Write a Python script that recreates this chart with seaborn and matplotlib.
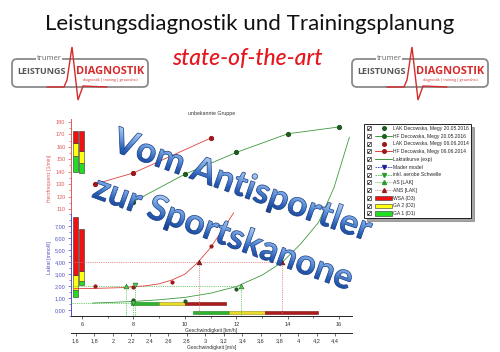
import numpy as np
import matplotlib
matplotlib.use("Agg")
import matplotlib.pyplot as plt
import seaborn as sns
from matplotlib.lines import Line2D
from matplotlib.patches import Patch, PathPatch, FancyBboxPatch
from matplotlib.legend_handler import HandlerBase, HandlerLine2D, HandlerPatch
from matplotlib.textpath import TextPath
from matplotlib.font_manager import FontProperties
from matplotlib.transforms import Affine2D
from matplotlib.ticker import MultipleLocator, FuncFormatter
from matplotlib.colors import LinearSegmentedColormap

# --- Daten ---
hf16_v = [8, 10, 12, 14, 16]
hf16 = [116, 138, 155.5, 170.5, 176]
hf14_v = [6.5, 8, 11]
hf14 = [130, 139, 167]

lak16_v = [8, 10, 12]
lak16 = [0.8, 0.78, 1.72]
lak14_v = [6.5, 8, 9.5, 11]
lak14 = [2.0, 1.9, 2.3, 5.3]

kurve16_v = [6.4, 7, 8, 9, 10, 11, 12, 13, 13.8, 14.5, 15.2, 15.8, 16.4]
kurve16 = [0.58, 0.62, 0.71, 0.85, 1.05, 1.4, 1.95, 2.9, 4.0, 5.5, 7.3, 10.2, 14.4]
kurve14_v = [5.7, 6.5, 7.5, 8.5, 9.0, 9.5, 10.0, 10.5, 11.0, 11.5, 11.9]
kurve14 = [1.78, 1.80, 1.86, 2.02, 2.18, 2.5, 2.98, 3.95, 5.2, 6.8, 8.1]

as_v = [7.7, 12.2]
as_la = [2.0, 2.0]
ans_v = [10.55, 13.77]
ans_la = [4.0, 4.0]
aerob_v = [8.05, 8.0]
aerob_la = [2.1, 0.62]

# Zonen: Start GA1, GA1/GA2, GA2/WSA, Ende WSA
zonen_pos = [5.76, 5.97]
hf_zonen = [[140, 152.3, 163, 173], [139, 147, 156.3, 173]]
la_zonen = [[1.08, 1.7, 2.92, 7.72], [2.06, 2.42, 3.25, 6.77]]
tempo_zonen_la = [0.57, -0.25]
tempo_zonen = [[7.9, 8.98, 10.02, 11.6], [10.33, 11.72, 13.1, 15.16]]

kmh_ticks = [6, 8, 10, 12, 14, 16]
ms_ticks = [1.6, 1.8, 2, 2.2, 2.4, 2.6, 2.8, 3, 3.2, 3.4, 3.6, 3.8, 4, 4.2, 4.4]
la_ticks = [0, 1, 2, 3, 4, 5, 6, 7]
hf_ticks = [110, 120, 130, 140, 150, 160, 170, 180]

legend_labels = ["LAK Decowska, Megy 20.05.2016", "HF Decowska, Megy 20.05.2016",
                 "LAK Decowska, Megy 06.06.2014", "HF Decowska, Megy 06.06.2014",
                 "Laktatkurve (exp)", "Mader model", "inkl. aerobe Schwelle",
                 "AS [LAK]", "ANS [LAK]", "WSA (D3)", "GA 2 (D2)", "GA 1 (D1)"]

sns.set_style("white")
plt.rcParams['font.family'] = ['Liberation Sans', 'DejaVu Sans']

GRUEN_D = '#1f5c1f'
GRUEN_L = '#3d9a3d'
ROT_D = '#9a1a1a'
ROT_L = '#e04040'
Z_GRUEN, Z_GELB, Z_ROT = '#22dd22', '#ffff10', '#ee1111'
T_GRUEN, T_GELB, T_ROT = '#2db52d', '#eadc2a', '#ad1c1c'
HF_COL = '#e05a5a'
LA_COL = '#5050c8'

fig = plt.figure(figsize=(5, 3.52), dpi=100)
ax_la = fig.add_axes([0.142, 0.1023, 0.562, 0.2926])
ax_hf = fig.add_axes([0.142, 0.3949, 0.562, 0.2671])
ax_hf.patch.set_visible(False)

XMIN, XMAX = 5.57, 16.5
LA_MIN = -0.5
for ax in (ax_la, ax_hf):
    ax.set_xlim(XMIN, XMAX)
ax_la.set_ylim(LA_MIN, 8.08)
ax_hf.set_ylim(106.8, 182.4)

# vertikale Zonenbalken (HF und Laktat)
for pos, hz, lz in zip(zonen_pos, hf_zonen, la_zonen):
    ax_hf.bar([pos] * 3, np.diff(hz), bottom=hz[:-1], width=0.2,
              color=[Z_GRUEN, Z_GELB, Z_ROT], edgecolor='#333333', linewidth=0.4, zorder=2)
    ax_la.bar([pos] * 3, np.diff(lz), bottom=lz[:-1], width=0.2,
              color=[Z_GRUEN, Z_GELB, Z_ROT], edgecolor='#333333', linewidth=0.4, zorder=2)

# horizontale Tempozonen
for yy, tz in zip(tempo_zonen_la, tempo_zonen):
    ax_la.barh([yy] * 3, np.diff(tz), left=tz[:-1], height=0.25,
               color=[T_GRUEN, T_GELB, T_ROT], edgecolor=['#1d7a1d', '#9a8f10', '#7a1010'],
               linewidth=0.4, zorder=2)

# Hilfslinien Schwellen
dot = (0, (1, 1.2))
ax_la.hlines(ans_la[0], XMIN, max(ans_v), colors='#e27070', linestyles=[dot], lw=0.6, zorder=3)
ax_la.vlines(ans_v, LA_MIN, ans_la, colors='#e27070', linestyles=[dot], lw=0.6, zorder=3)
ax_la.hlines(as_la[0], XMIN, max(as_v), colors='#44c044', linestyles=[dot], lw=0.6, zorder=3)
ax_la.vlines(as_v, LA_MIN, as_la, colors='#44c044', linestyles=[dot], lw=0.6, zorder=3)
ax_la.hlines(aerob_la[1], XMIN, aerob_v[1], colors='#44c044', linestyles=[dot], lw=0.6, zorder=3)
ax_la.vlines(aerob_v, LA_MIN, aerob_la, colors='#44c044', linestyles=[dot], lw=0.6, zorder=3)

# Laktatkurven (nicht abgeschnitten)
sns.lineplot(x=kurve14_v, y=kurve14, ax=ax_la, color=ROT_L, lw=0.6, clip_on=False, zorder=4)
sns.lineplot(x=kurve16_v, y=kurve16, ax=ax_la, color=GRUEN_L, lw=0.6, clip_on=False, zorder=4)

# Messpunkte
sns.scatterplot(x=lak14_v, y=lak14, ax=ax_la, color=ROT_D, s=9, linewidth=0, zorder=5)
sns.scatterplot(x=lak16_v, y=lak16, ax=ax_la, color=GRUEN_D, s=9, linewidth=0, zorder=5)
sns.scatterplot(x=as_v, y=as_la, ax=ax_la, marker='^', color='#55cc55', edgecolor=GRUEN_D,
                s=12, linewidth=0.4, zorder=6)
sns.scatterplot(x=ans_v, y=ans_la, ax=ax_la, marker='^', color=ROT_D, edgecolor='#5a0a0a',
                s=12, linewidth=0.4, zorder=6)
sns.scatterplot(x=aerob_v, y=aerob_la, ax=ax_la, marker='v', color='#55cc55', edgecolor=GRUEN_D,
                s=12, linewidth=0.4, zorder=6)

sns.lineplot(x=hf14_v, y=hf14, ax=ax_hf, color=ROT_L, lw=0.6, marker='o', ms=3,
             mfc=ROT_D, mec=ROT_D, zorder=5)
sns.lineplot(x=hf16_v, y=hf16, ax=ax_hf, color=GRUEN_L, lw=0.6, marker='o', ms=3,
             mfc=GRUEN_D, mec=GRUEN_D, zorder=5)

# Achsen
komma2 = FuncFormatter(lambda v, p: f"{v:.2f}".replace('.', ','))
kommag = FuncFormatter(lambda v, p: f"{v:g}".replace('.', ','))

ax_la.set_yticks(la_ticks)
ax_la.yaxis.set_major_formatter(komma2)
ax_la.yaxis.set_minor_locator(MultipleLocator(0.5))
ax_la.set_xticks(kmh_ticks)
ax_la.xaxis.set_minor_locator(MultipleLocator(1))
ax_la.tick_params(axis='both', which='both', direction='out', width=0.5, labelsize=4, pad=1.5)
ax_la.tick_params(which='major', length=2.5)
ax_la.tick_params(which='minor', length=1.5)
ax_la.tick_params(axis='y', which='both', colors=LA_COL, left=True)
ax_la.tick_params(axis='x', which='both', bottom=True, colors='#333333')
for s in ('top', 'right'):
    ax_la.spines[s].set_visible(False)
ax_la.spines['left'].set_color(LA_COL)
ax_la.spines['bottom'].set_color('#222222')
for s in ('left', 'bottom'):
    ax_la.spines[s].set_linewidth(0.7)
ax_la.set_ylabel('Laktat [mmol/l]', fontsize=3.6, color=LA_COL)
ax_la.yaxis.set_label_coords(-0.068, 0.57)
ax_la.set_xlabel('Geschwindigkeit [km/h]', fontsize=3.6, color='#333333', labelpad=1)

ax_hf.set_yticks(hf_ticks)
ax_hf.yaxis.set_minor_locator(MultipleLocator(5))
ax_hf.tick_params(axis='y', which='both', direction='out', width=0.5, labelsize=4, pad=1.5,
                  colors=HF_COL, left=True)
ax_hf.tick_params(axis='y', which='major', length=2.5)
ax_hf.tick_params(axis='y', which='minor', length=1.5)
ax_hf.tick_params(axis='x', bottom=False, labelbottom=False)
for s in ('top', 'right', 'bottom'):
    ax_hf.spines[s].set_visible(False)
ax_hf.spines['left'].set_color(HF_COL)
ax_hf.spines['left'].set_linewidth(0.7)
ax_hf.set_ylabel('Herzfrequenz [1/min]', fontsize=3.6, color=HF_COL)
ax_hf.yaxis.set_label_coords(-0.068, 0.366)
ax_hf.set_title('unbekannte Gruppe', fontsize=3.8, pad=3, color='#333333')

sec = ax_la.secondary_xaxis(-0.165, functions=(lambda v: v / 3.6, lambda v: v * 3.6))
sec.set_xticks(ms_ticks)
sec.xaxis.set_major_formatter(kommag)
sec.tick_params(direction='out', width=0.5, length=2.5, labelsize=4, pad=1.5, colors='#333333')
sec.spines['bottom'].set_linewidth(0.7)
sec.set_xlabel('Geschwindigkeit [m/s]', fontsize=3.6, color='#333333', labelpad=1)


# Legende mit Kontrollkästchen
class MitKaestchen(HandlerBase):
    def __init__(self, inner, gap):
        super().__init__()
        self.inner = inner
        self.gap = gap

    def create_artists(self, legend, orig_handle, xdescent, ydescent, width, height, fontsize, trans):
        bx = -xdescent + 0.5 * fontsize
        by = height / 2 - ydescent
        box = Line2D([bx], [by], marker='s', ms=3.3, mfc='white', mec='black', mew=0.4,
                     ls='none', transform=trans)
        haken = Line2D([bx], [by], marker='$\u2713$', ms=2.6, color='black', mew=0,
                       ls='none', transform=trans)
        arts = self.inner.create_artists(legend, orig_handle, xdescent - self.gap, ydescent,
                                         width - self.gap, height, fontsize, trans)
        return [box, haken] + list(arts)


handles = [
    Line2D([], [], ls='none', marker='o', color=GRUEN_D, ms=2.6),
    Line2D([], [], color=GRUEN_L, lw=0.7, marker='o', mfc=GRUEN_D, mec=GRUEN_D, ms=2.6),
    Line2D([], [], ls='none', marker='o', color=ROT_D, ms=2.6),
    Line2D([], [], color=ROT_L, lw=0.7, marker='o', mfc=ROT_D, mec=ROT_D, ms=2.6),
    Line2D([], [], color=GRUEN_L, lw=0.7),
    Line2D([], [], color='#3a3ad0', lw=0.6, ls=(0, (2, 1)), marker='v', mfc='#2020a0', mec='#2020a0', ms=2.8),
    Line2D([], [], color='#44c044', lw=0.6, ls=(0, (2, 1)), marker='v', mfc='#2a9a2a', mec='#2a9a2a', ms=2.8),
    Line2D([], [], color='#44c044', lw=0.6, ls=(0, (1, 1)), marker='^', mfc='#2a9a2a', mec='#2a9a2a', ms=2.8),
    Line2D([], [], color='#e27070', lw=0.6, ls=(0, (1, 1)), marker='^', mfc=ROT_D, mec=ROT_D, ms=2.8),
    Patch(fc=Z_ROT, ec='#333333', lw=0.4),
    Patch(fc=Z_GELB, ec='#333333', lw=0.4),
    Patch(fc=Z_GRUEN, ec='#333333', lw=0.4),
]
hmap = {}
for h in handles:
    inner = HandlerPatch() if isinstance(h, Patch) else HandlerLine2D()
    hmap[h] = MitKaestchen(inner, 6.5)

leg = fig.legend(handles, legend_labels, handler_map=hmap, loc='upper left',
                 bbox_to_anchor=(0.728, 0.648), fontsize=3.6, frameon=True, fancybox=False,
                 shadow=True, edgecolor='black', framealpha=1, handlelength=5.2,
                 handleheight=0.9, handletextpad=0.2, labelspacing=0.55, borderpad=0.4,
                 borderaxespad=0)
leg.get_frame().set_linewidth(0.6)

# Überlagerung: Kopf, Logos, Schriftzug (Pixelkoordinaten)
ov = fig.add_axes([0, 0, 1, 1], zorder=20)
ov.set_xlim(0, 500)
ov.set_ylim(0, 352)
ov.axis('off')
ov.patch.set_visible(False)


def Y(y):
    return 352 - y


ov.text(250, Y(24), 'Leistungsdiagnostik und Trainingsplanung', ha='center', va='center',
        fontsize=16, family='Lato', color='#111111')
ov.text(247, Y(59), 'state-of-the-art', ha='center', va='center', fontsize=16.5,
        family='Lato', style='italic', weight='medium', color='#e5161e')


def logo(x0):
    ov.add_patch(FancyBboxPatch((x0, Y(87)), 136, 28, boxstyle='round,pad=0,rounding_size=5',
                                fc='none', ec='#8a8a8a', lw=1.3))
    ov.text(x0 + 37, Y(59), 'trumer', fontsize=5.5, color='#6a6a6a', ha='center', va='center',
            family='Open Sans', bbox=dict(fc='white', ec='none', pad=0.6))
    ov.text(x0 + 29, Y(72), 'LEISTUNGS', fontsize=6.5, weight='bold', color='#585858',
            ha='center', va='center', family='Open Sans')
    ov.text(x0 + 98, Y(71), 'DIAGNOSTIK', fontsize=7.9, weight='bold', color='#d52b2b',
            ha='center', va='center', family='Open Sans')
    ov.text(x0 + 98, Y(79.5), 'diagnostik | training | gesundheit', fontsize=2.5, color='#d52b2b',
            ha='center', va='center', family='Open Sans')
    px = [x0 + d for d in (35, 52, 55, 60, 66, 71, 95)]
    py = [Y(v) for v in (87, 87, 80, 47, 100, 86, 87)]
    ov.plot(px, py, color='#d52b2b', lw=1.0, solid_joinstyle='miter')


logo(12)
logo(352)

blau = LinearSegmentedColormap.from_list('blau', ['#143a86', '#2a5fb8', '#6e9ee0', '#b2cdf2'])


def schriftzug(text, cx, cy, laenge, winkel):
    fp = FontProperties(family='Lato', weight='bold')
    tp0 = TextPath((0, 0), text, size=10, prop=fp)
    size = 10 * laenge / tp0.get_extents().width
    tp = TextPath((0, 0), text, size=size, prop=fp)
    bb = tp.get_extents()
    tf = Affine2D().translate(-(bb.x0 + bb.x1) / 2, -(bb.y0 + bb.y1) / 2).rotate_deg(winkel).translate(cx, cy)
    patch = PathPatch(tf.transform_path(tp), fc='none', ec='#163c82', lw=0.5, zorder=6)
    ov.add_patch(patch)
    grad = np.linspace(0, 1, 128).reshape(-1, 1)
    im = ov.imshow(grad, cmap=blau, origin='lower', aspect='auto', interpolation='bilinear',
                   extent=(bb.x0, bb.x1, bb.y0, bb.y1), zorder=5)
    im.set_transform(tf + ov.transData)
    im.set_clip_path(patch)


schriftzug('Vom Antisportler', 242, Y(186), 272, -19.5)
schriftzug('zur Sportskanone', 223, Y(234), 272, -20)
ov.set_xlim(0, 500)
ov.set_ylim(0, 352)

fig.savefig('out.png', dpi=100, facecolor='white')
